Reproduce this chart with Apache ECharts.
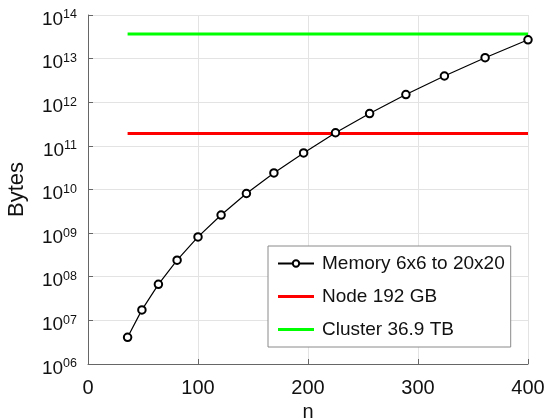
<!DOCTYPE html>
<html>
<head>
<meta charset="utf-8">
<script src="https://cdn.jsdelivr.net/npm/echarts@6/dist/echarts.min.js"></script>
<style>
  html, body { margin: 0; padding: 0; background: #fff; }
  #chart { width: 550px; height: 420px; }
</style>
</head>
<body>
<div id="chart"></div>
<script>
// n = 6^2 .. 20^2
var nValues = [36, 49, 64, 81, 100, 121, 144, 169, 196, 225, 256, 289, 324, 361, 400];
// bytes
var memoryBytes = [4.1e6, 1.74e7, 6.7e7, 2.4e8, 8.2e8, 2.6e9, 8.1e9, 2.4e10, 6.9e10,
  2.0e11, 5.5e11, 1.5e12, 4.0e12, 1.05e13, 2.7e13];
var limitX = [36, 400];
var nodeBytes = [1.92e11, 1.92e11];
var clusterBytes = [3.69e13, 3.69e13];
var xTicks = [0, 100, 200, 300, 400];
var seriesNames = ['Memory 6x6 to 20x20', 'Node 192 GB', 'Cluster 36.9 TB'];

function pairs(xs, ys) {
  return xs.map(function (x, i) { return [x, ys[i]]; });
}

var myChart = echarts.init(document.getElementById('chart'));
var font = 'Liberation Sans, Arial, Helvetica, sans-serif';
var barIcon = 'path://M0,0H36V3H0Z';

var option = {
  animation: false,
  textStyle: { fontFamily: font },
  grid: { left: 88, right: 22, top: 15, bottom: 56, outerBoundsMode: 'none' },
  legend: {
    data: [
      { name: seriesNames[0] },
      { name: seriesNames[1], icon: barIcon },
      { name: seriesNames[2], icon: barIcon }
    ],
    orient: 'vertical',
    left: 268,
    top: 246,
    padding: [8, 6, 8, 9],
    itemGap: 14,
    itemWidth: 36,
    itemHeight: 8,
    backgroundColor: '#fff',
    borderColor: '#8a8a8a',
    borderWidth: 1,
    textStyle: { fontSize: 19, color: '#111', fontFamily: font, padding: [0, 0, 0, 3] }
  },
  xAxis: {
    type: 'value',
    min: xTicks[0],
    max: xTicks[xTicks.length - 1],
    interval: 100,
    name: 'n',
    nameLocation: 'middle',
    nameGap: 36,
    nameTextStyle: { fontSize: 20, color: '#111' },
    axisLine: { lineStyle: { color: '#666', width: 1 } },
    axisTick: { inside: true, length: 5, lineStyle: { color: '#666' } },
    axisLabel: { fontSize: 20, color: '#111', margin: 14 },
    splitLine: { show: true, lineStyle: { color: '#e3e3e3', width: 1 } }
  },
  yAxis: {
    type: 'log',
    logBase: 10,
    min: 1e6,
    max: 1e14,
    splitNumber: 8,
    name: 'Bytes',
    nameLocation: 'middle',
    nameRotate: 90,
    nameGap: 60,
    nameTextStyle: { fontSize: 22, color: '#111' },
    axisLine: { show: true, lineStyle: { color: '#666', width: 1 } },
    axisTick: { show: true, inside: true, length: 5, lineStyle: { color: '#666' } },
    axisLabel: {
      margin: 11,
      padding: [9, 0, 0, 0],
      formatter: function (v) {
        var e = Math.round(Math.log10(v));
        var s = (e < 10 ? '0' : '') + e;
        return '{b|10}{s|' + s + '}';
      },
      rich: {
        b: { fontSize: 19, lineHeight: 22, color: '#111', fontFamily: font },
        s: { fontSize: 12.5, lineHeight: 10, verticalAlign: 'top', color: '#111', fontFamily: font }
      }
    },
    splitLine: { show: true, lineStyle: { color: '#e3e3e3', width: 1 } },
    minorTick: { show: false }
  },
  series: [
    {
      name: seriesNames[0],
      type: 'line',
      data: pairs(nValues, memoryBytes),
      symbol: 'emptyCircle',
      symbolSize: 7.5,
      lineStyle: { color: '#000', width: 1.2 },
      itemStyle: { color: '#000', borderWidth: 1.2 },
      z: 3
    },
    {
      name: seriesNames[1],
      type: 'line',
      data: pairs(limitX, nodeBytes),
      symbol: 'none',
      lineStyle: { color: '#ff0000', width: 3 },
      itemStyle: { color: '#ff0000' },
      z: 2
    },
    {
      name: seriesNames[2],
      type: 'line',
      data: pairs(limitX, clusterBytes),
      symbol: 'none',
      lineStyle: { color: '#00ff00', width: 3 },
      itemStyle: { color: '#00ff00' },
      z: 2
    }
  ]
};
myChart.setOption(option);
</script>
</body>
</html>
